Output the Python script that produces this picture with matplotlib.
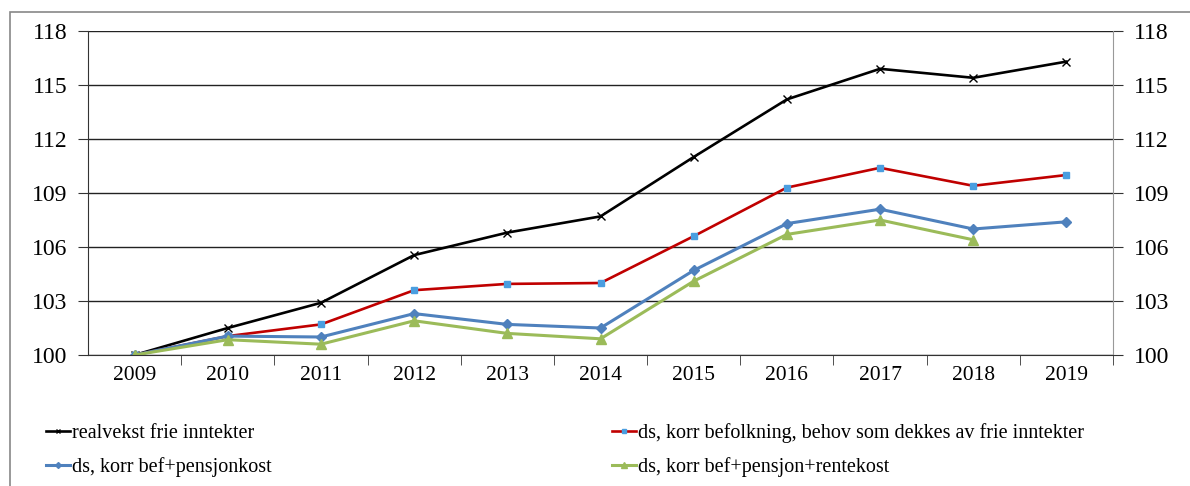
import matplotlib.pyplot as plt
from matplotlib.patches import Rectangle

years = ["2009", "2010", "2011", "2012", "2013", "2014", "2015", "2016", "2017", "2018", "2019"]
realvekst = [100.0, 101.5, 102.9, 105.55, 106.8, 107.7, 111.0, 114.2, 115.9, 115.4, 116.3]
korr_bef = [100.0, 101.05, 101.7, 103.6, 103.95, 104.0, 106.6, 109.3, 110.4, 109.4, 110.0]
korr_pensjon = [100.0, 101.05, 101.0, 102.3, 101.7, 101.5, 104.7, 107.3, 108.1, 107.0, 107.4]
korr_rente = [100.0, 100.85, 100.6, 101.9, 101.2, 100.9, 104.1, 106.7, 107.5, 106.4]

labels = ["realvekst frie inntekter",
          "ds, korr befolkning, behov som dekkes av frie inntekter",
          "ds, korr bef+pensjonkost",
          "ds, korr bef+pensjon+rentekost"]
yticks = [100, 103, 106, 109, 112, 115, 118]

plt.rcParams['font.family'] = ['Liberation Serif', 'DejaVu Serif']

fig = plt.figure(figsize=(11.9, 4.86), dpi=100)
fig.patches.append(Rectangle((10 / 1190, -0.1), 1.2, 1 - 12 / 486 + 0.1,
                             transform=fig.transFigure, fill=False,
                             edgecolor='#888888', linewidth=1.2))
ax = fig.add_axes([88 / 1190, 1 - 355 / 486, (1113 - 88) / 1190, (355 - 31) / 486])

x = list(range(len(years)))
l1, = ax.plot(x, realvekst, color='black', lw=1.9, marker='x', ms=6, mew=1)
l2, = ax.plot(x, korr_bef, color='#C00000', lw=1.9, marker='s', ms=4,
              mfc='#4A9EE0', mec='#4A9EE0')
l3, = ax.plot(x[:len(korr_pensjon)], korr_pensjon, color='#4F81BD', lw=2.2,
              marker='D', ms=5)
l4, = ax.plot(x[:len(korr_rente)], korr_rente, color='#9BBB59', lw=2.2,
              marker='^', ms=7)

ax.set_xlim(-0.5, len(years) - 0.5)
ax.set_ylim(100, 118)
ax.set_yticks(yticks)
ax.set_yticklabels([str(v) for v in yticks], fontsize=17)
ax.set_xticks(x)
ax.set_xticklabels(years, fontsize=15.5)
ax.set_xticks([i + 0.5 for i in range(len(years))], minor=True)
ax.tick_params(axis='x', which='major', length=0, pad=8)
ax.tick_params(axis='x', which='minor', length=7, color='#333333', direction='out')
ax.tick_params(axis='y', length=7, color='#333333', direction='out', pad=8)
ax.tick_params(axis='y', labelright=True, right=True)
ax.grid(axis='y', color='#222222', lw=1)
ax.set_axisbelow(True)
ax.spines['top'].set_visible(False)
ax.spines['left'].set_color('#333333')
ax.spines['right'].set_color('#999999')
ax.spines['bottom'].set_color('#333333')

fig.legend([l1, l3, l2, l4], [labels[0], labels[2], labels[1], labels[3]],
           ncol=2, loc='upper left', bbox_to_anchor=(28 / 1190, 1 - 405 / 486),
           frameon=False, fontsize=14.5, handlelength=1.2, handletextpad=0.1,
           columnspacing=16.9, labelspacing=0.7, markerscale=0.6)

fig.savefig('out.png', dpi=100)
